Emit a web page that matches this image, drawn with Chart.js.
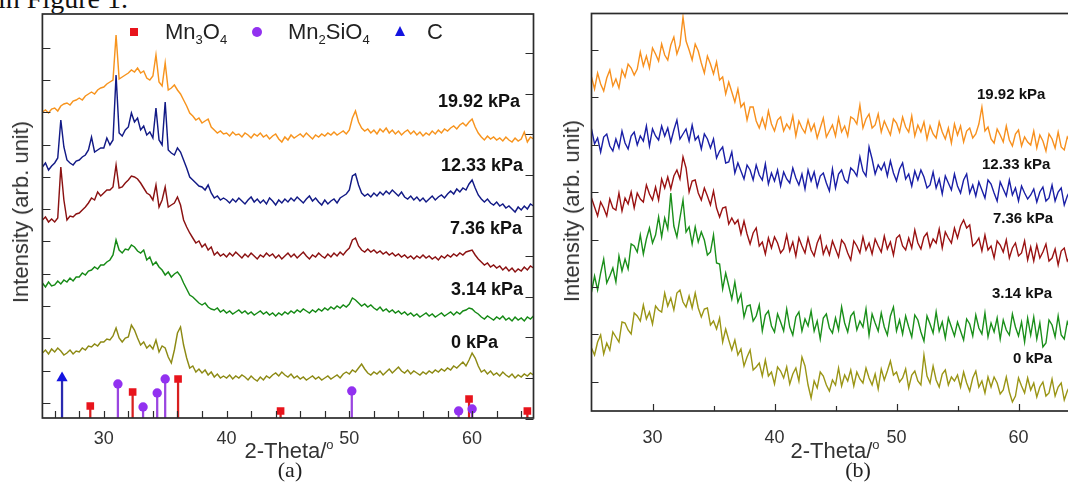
<!DOCTYPE html>
<html>
<head>
<meta charset="utf-8">
<title>XRD patterns</title>
<script src="https://cdn.jsdelivr.net/npm/chart.js@4.4.1/dist/chart.umd.min.js"></script>
<style>
  html, body { margin: 0; padding: 0; background: #fff; }
  body { position: relative; width: 1068px; height: 486px; overflow: hidden; font-family: 'Liberation Sans', Arial, sans-serif; }
  canvas { position: absolute; top: 0; }
  #chartA { left: 0; }
  #chartB { left: 548px; }
  .kpa { position: absolute; white-space: nowrap; line-height: 1; transform: translateY(-50%); font-weight: bold; color: #111; }
  .ytitle { position: absolute; font-size: 22px; color: #333; white-space: nowrap; line-height: 1; transform: translate(-50%, -50%) rotate(-90deg); }
  .xtitle { position: absolute; font-size: 22px; color: #333; white-space: nowrap; line-height: 1; transform: translate(-50%, -50%); }
  .xtitle sup { font-size: 13px; position: relative; top: -2px; vertical-align: top; }
  .panel { position: absolute; font-family: 'Liberation Serif', 'DejaVu Serif', serif; font-size: 22px; color: #222; line-height: 1; transform: translate(-50%, -50%); }
  .pagetext { position: absolute; left: -2px; top: -15px; font-family: 'Liberation Serif', serif; font-size: 28px; line-height: 28px; color: #111; white-space: nowrap; }
  .leg { position: absolute; font-size: 22px; color: #222; line-height: 1; transform: translateY(-50%); white-space: nowrap; }
  .leg sub { font-size: 13px; vertical-align: baseline; position: relative; top: 5px; }
  .mk { position: absolute; transform: translate(-50%, -50%); }
</style>
</head>
<body>
<div class="pagetext">in Figure 1.</div>
<canvas id="chartA" width="540" height="486"></canvas>
<canvas id="chartB" width="540" height="486"></canvas>

<div class="mk" style="left:134px; top:32px; width:8px; height:8px; background:#e8141c;"></div>
<div class="leg" style="left:165px; top:32px;">Mn<sub>3</sub>O<sub>4</sub></div>
<div class="mk" style="left:257px; top:32px; width:10px; height:10px; border-radius:50%; background:#9231f0;"></div>
<div class="leg" style="left:288px; top:32px;">Mn<sub>2</sub>SiO<sub>4</sub></div>
<div class="mk" style="left:400px; top:31px; width:0; height:0; border-left:5.5px solid transparent; border-right:5.5px solid transparent; border-bottom:10px solid #1414e0;"></div>
<div class="leg" style="left:427px; top:32px;">C</div>

<div class="ytitle" style="left:21px; top:212px;">Intensity (arb. unit)</div>
<div class="xtitle" style="left:289px; top:451px;">2-Theta/<sup>o</sup></div>
<div class="panel" style="left:290px; top:470px;">(a)</div>

<div class="ytitle" style="left:572px; top:211px;">Intensity (arb. unit)</div>
<div class="xtitle" style="left:835px; top:451px;">2-Theta/<sup>o</sup></div>
<div class="panel" style="left:858px; top:470px;">(b)</div>

<script>
// 2-theta scan grid (degrees)
const thetaStart = 25;
const thetaStep = 0.25;
const thetaLabels = [30, 40, 50, 60];
const pressures = ['19.92 kPa', '12.33 kPa', '7.36 kPa', '3.14 kPa', '0 kPa'];

// Panel (a) intensities, arb. units
const a1992 = [320,322,319,323,324,321,326,328,329,327,331,332,334,332,336,338,340,338,342,344,345,348,350,352,
  397,353,355,357,359,362,360,364,359,361,354,352,356,377,350,346,369,342,344,347,342,338,332,326,
  319,316,312,314,309,311,313,305,302,299,301,298,299,296,300,297,298,295,299,297,294,298,296,299,
  295,297,293,296,298,293,290,295,292,297,294,296,298,295,299,296,293,297,295,298,296,299,297,300,
  297,299,301,298,302,314,321,310,304,301,303,299,302,298,303,300,304,299,302,298,301,297,300,302,
  298,301,297,300,296,299,297,301,298,302,299,303,301,304,306,303,307,309,306,310,313,305,299,295,
  292,296,293,295,292,294,291,295,292,290,294,291,293,300,290,295,293];
const a1233 = [265,269,262,266,269,274,312,285,272,269,267,271,272,275,277,282,295,280,282,284,284,294,287,292,
  357,299,296,302,305,319,310,314,302,306,297,300,294,324,292,287,330,282,279,277,284,280,272,264,
  255,252,249,246,245,242,247,239,234,236,232,234,232,229,233,230,234,231,228,232,235,230,233,229,
  232,228,234,231,227,232,229,233,230,234,231,235,232,229,233,236,231,234,230,227,232,228,231,233,
  229,234,236,238,242,256,258,247,239,236,238,235,239,236,240,237,241,238,242,239,236,240,235,233,
  236,232,235,231,234,230,233,236,232,235,237,234,238,241,238,243,240,244,242,248,252,244,237,233,
  230,233,229,227,230,226,228,224,226,223,220,225,222,226,223,228,226];
const a736 = [212,215,210,213,210,214,265,232,212,216,215,218,219,222,225,229,234,232,240,236,239,242,242,245,
  267,244,245,249,252,256,255,253,249,244,239,237,232,247,225,232,245,225,227,229,235,227,212,205,
  199,194,189,191,185,188,182,185,177,180,176,178,175,179,176,180,177,174,178,175,179,176,173,177,
  175,179,176,178,174,177,173,176,179,175,178,174,177,180,176,173,177,175,179,176,174,178,175,179,
  176,180,177,181,184,192,194,186,182,180,183,180,182,179,181,178,180,177,179,176,178,175,177,174,
  176,173,176,174,177,174,176,173,175,172,176,174,177,175,178,176,179,177,180,181,182,177,173,170,
  167,169,165,167,164,166,162,165,161,164,160,163,161,165,162,166,164];
const a314 = [149,145,150,146,147,151,148,152,150,154,151,155,155,159,157,161,162,165,163,167,167,170,172,177,
  192,182,179,183,182,187,185,181,179,182,172,175,167,170,165,162,157,160,155,158,160,156,149,143,
  137,135,132,129,127,129,125,123,122,124,120,122,119,121,118,120,122,119,121,118,120,117,119,121,
  118,120,117,119,116,119,117,120,118,121,119,122,120,123,121,119,122,120,123,121,124,122,125,123,
  126,124,127,125,128,134,132,129,126,128,125,127,124,122,125,121,123,120,122,119,121,118,120,117,
  119,116,118,115,117,119,116,118,115,117,119,116,118,120,117,120,118,121,122,124,123,120,118,115,
  113,116,114,112,115,113,116,112,114,111,115,112,114,111,115,113,116];
const a0 = [79,82,78,83,80,84,81,77,79,82,78,81,80,84,82,86,85,88,86,90,90,93,92,96,
  104,94,90,94,95,107,102,94,87,90,84,87,83,92,80,86,84,75,69,82,99,105,87,74,
  64,66,60,63,59,62,57,60,55,58,54,56,54,57,53,56,54,57,55,52,56,53,51,55,
  52,56,54,57,59,56,60,57,55,58,54,56,53,55,52,54,56,53,55,52,54,56,53,55,
  57,54,58,60,58,62,60,64,68,63,59,57,60,58,61,57,60,63,59,62,65,61,59,62,
  58,61,59,57,60,58,61,59,62,60,63,61,64,62,66,64,67,70,66,72,79,74,66,60,
  62,58,61,57,59,56,60,57,55,58,54,57,55,58,56,59,57];

// Reference patterns in panel (a): 2-theta and stick height
const mn3o4Theta = [28.9, 32.35, 36.05, 44.4, 59.75, 64.5];
const mn3o4Height = [26, 40, 53, 21, 33, 21];
const mn2sio4Theta = [31.15, 33.2, 34.35, 35.0, 50.2, 58.9, 60.0];
const mn2sio4Height = [48, 25, 39, 53, 41, 21, 23];
const carbonTheta = [26.6];
const carbonHeight = [54];

// Panel (b) intensities, arb. units
const b1992 = [338,326,342,331,324,337,345,329,336,327,345,338,351,347,340,346,363,349,359,347,367,361,354,371,
  360,355,370,378,361,370,398,374,365,355,371,364,352,342,359,351,341,353,335,338,321,333,323,313,
  326,308,312,295,308,308,294,287,297,287,304,291,284,295,298,284,291,286,299,279,294,287,282,295,
  284,291,277,287,297,278,284,290,279,297,283,289,279,298,296,291,310,287,296,301,287,290,301,283,
  294,287,280,296,292,283,298,288,283,299,279,290,283,293,276,289,281,277,293,283,276,287,272,291,
  280,289,273,284,287,277,281,291,308,284,288,276,272,286,280,273,289,275,269,281,285,269,278,273,
  270,284,267,280,274,264,281,276,267,283,268,265,278,273,262,275,268];
const b1233 = [286,271,277,263,278,281,269,264,276,267,284,272,266,279,283,270,279,274,289,269,286,279,275,289,
  279,287,273,285,295,276,281,286,274,290,275,279,266,281,276,267,276,257,264,268,252,253,263,242,
  252,244,236,250,245,235,250,240,235,251,231,242,234,245,229,243,236,232,247,237,230,241,226,245,
  234,243,228,239,242,232,224,246,227,241,245,235,232,247,244,239,258,244,239,268,256,241,250,245,
  252,239,254,242,234,246,252,236,241,229,244,235,245,238,227,230,243,227,236,221,239,232,225,241,
  229,222,235,241,222,230,219,233,225,217,235,231,222,214,233,226,219,235,220,227,214,229,222,216,
  220,226,213,223,228,214,217,230,214,223,227,210,219,225,211,228,214];
const b736 = [217,208,199,213,207,199,216,207,205,222,204,217,211,223,207,222,216,213,230,221,215,228,215,236,
  227,238,226,239,245,236,258,247,223,234,235,222,215,227,219,210,224,207,198,207,208,191,197,191,
  195,181,194,181,171,182,187,169,173,161,177,167,178,172,162,166,180,164,173,159,177,169,162,177,
  165,159,172,179,161,169,160,174,166,158,175,171,162,155,174,169,162,178,165,172,161,176,169,163,
  179,166,173,160,177,180,169,165,177,167,185,172,166,178,182,168,176,172,186,167,183,177,172,187,
  177,189,195,187,190,169,172,177,164,180,165,169,157,174,170,163,175,157,167,172,159,162,174,155,
  168,154,170,157,163,171,154,157,166,150,164,167,154,159,168,155,162];
const b314 = [123,139,125,142,156,132,139,147,133,159,144,156,146,171,169,163,180,161,176,187,172,180,198,178,
  197,186,222,189,178,197,215,183,188,171,188,173,183,175,160,163,180,152,151,126,142,129,116,133,
  113,121,98,109,110,94,99,110,84,100,104,89,83,101,93,84,106,88,80,98,103,84,96,89,
  104,84,94,76,97,101,87,82,97,85,108,92,83,99,103,85,94,88,106,80,101,92,84,102,
  88,80,99,108,84,95,81,99,88,78,100,95,83,74,99,91,82,103,84,93,77,97,88,79,
  93,84,75,96,91,79,100,87,81,102,78,92,83,97,76,95,85,80,101,88,79,93,73,97,
  80,98,76,92,68,72,95,90,78,99,80,76,93,86,73,90,81];
const b0 = [67,60,73,80,61,72,65,83,78,73,93,92,85,81,102,99,94,110,96,103,91,109,105,103,
  122,109,117,105,122,125,113,108,119,107,122,107,98,106,107,90,94,86,97,73,86,75,65,75,
  60,66,49,58,65,45,48,52,39,55,39,43,31,48,44,37,48,31,41,47,34,58,49,30,
  17,34,27,43,39,30,24,35,30,47,29,40,34,45,29,43,36,32,47,37,30,41,26,46,
  35,44,54,40,43,33,37,46,27,40,44,34,30,60,39,32,49,35,28,41,45,30,38,34,
  40,28,43,32,24,37,44,28,34,22,38,28,38,32,21,25,38,23,13,19,37,29,22,37,
  25,32,18,28,33,19,22,36,19,28,32,15,24,30,17,34,20];

function linePoints(values) {
    return values.map((v, i) => ({ x: thetaStart + i * thetaStep, y: v }));
}

function stickPoints(theta, height) {
    return theta.map((t, i) => ({ x: t, y: height[i] }));
}

function curve(label, values, color, width) {
    return {
        type: 'line', label, data: linePoints(values),
        borderColor: color, borderWidth: width,
        pointRadius: 0, tension: 0, fill: false
    };
}

function stems(label, theta, height, color) {
    return {
        type: 'bar', label, data: stickPoints(theta, height),
        backgroundColor: color, barThickness: 1.6, grouped: false
    };
}

function markers(label, theta, height, color, style, radius) {
    return {
        type: 'line', label, data: stickPoints(theta, height), showLine: false,
        pointStyle: style, pointRadius: radius,
        pointBackgroundColor: color, pointBorderWidth: 0, borderColor: color
    };
}

// Frame and inward tick marks
const frameTicks = {
    id: 'frameTicks',
    afterDraw(chart, args, opts) {
        const { ctx, chartArea: a, scales: { x, y } } = chart;
        ctx.save();
        ctx.strokeStyle = '#2b2b2b';
        ctx.lineWidth = 1.2;
        ctx.beginPath();
        opts.bottom.forEach(t => {
            const px = Math.round(x.getPixelForValue(t.v)) + 0.5;
            ctx.moveTo(px, a.bottom);
            ctx.lineTo(px, a.bottom - t.len);
        });
        opts.left.forEach(v => {
            const py = Math.round(y.getPixelForValue(v)) + 0.5;
            ctx.moveTo(a.left, py);
            ctx.lineTo(a.left + opts.yLen, py);
        });
        opts.right.forEach(v => {
            const py = Math.round(y.getPixelForValue(v)) + 0.5;
            ctx.moveTo(a.right, py);
            ctx.lineTo(a.right - opts.yLen, py);
        });
        ctx.stroke();
        ctx.lineWidth = 1.7;
        ctx.strokeRect(a.left, a.top, a.right - a.left, a.bottom - a.top);
        ctx.restore();
    }
};

function makeChart(id, datasets, box) {
    return new Chart(document.getElementById(id), {
        type: 'line',
        data: { datasets },
        options: {
            responsive: false,
            animation: false,
            devicePixelRatio: 1,
            layout: { padding: { top: box.top, right: box.right, left: 0, bottom: 0 } },
            plugins: {
                legend: { display: false },
                tooltip: { enabled: false },
                frameTicks: box.ticks
            },
            scales: {
                x: {
                    type: 'linear', min: 25, max: 65, offset: false,
                    afterBuildTicks: s => { s.ticks = thetaLabels.map(v => ({ value: v })); },
                    ticks: {
                        font: { family: "'Liberation Sans', Arial, sans-serif", size: 18 },
                        color: '#333', padding: box.labelPad, maxRotation: 0, autoSkip: false
                    },
                    grid: { display: false, drawTicks: false },
                    border: { display: false },
                    afterFit: s => { s.height = box.xHeight; }
                },
                y: {
                    min: box.yMin, max: box.yMax,
                    ticks: { display: false },
                    grid: { display: false, drawTicks: false },
                    border: { display: false },
                    afterFit: s => { s.width = box.yWidth; }
                }
            }
        },
        plugins: [frameTicks]
    });
}

// Tick positions
const ticksA = { bottom: [], left: [], right: [], yLen: 8 };
for (let t = 26; t <= 64; t += 2) ticksA.bottom.push({ v: t, len: 7 });
for (let k = 0; k <= 11; k++) ticksA.left.push(29 + 32.3 * k);
for (let k = -1; k <= 8; k++) ticksA.right.push(54 + 40.6 * k);

const ticksB = { bottom: [], left: [], right: [], yLen: 7 };
for (let t = 30; t <= 65; t += 5) ticksB.bottom.push({ v: t, len: t % 10 === 0 ? 7 : 5 });
for (let k = 0; k <= 7; k++) ticksB.left.push(33.2 + 47.4 * k);

const colorsA = ['#f7941e', '#121a86', '#8b1212', '#168a16', '#8d8a14'];
const colorsB = ['#f7901e', '#1a1fa6', '#9a1212', '#1a8f1a', '#9a9515'];

makeChart('chartA', [
    markers('C', carbonTheta, carbonHeight, '#1414e0', 'triangle', 6.5),
    markers('Mn3O4', mn3o4Theta, mn3o4Height, '#e8141c', 'rect', 5.4),
    markers('Mn2SiO4', mn2sio4Theta, mn2sio4Height, '#9231f0', 'circle', 4.7),
    stems('C', carbonTheta, carbonHeight, '#2a2ab0'),
    stems('Mn3O4', mn3o4Theta, mn3o4Height, '#d82020'),
    stems('Mn2SiO4', mn2sio4Theta, mn2sio4Height, '#9a45e0'),
    curve(pressures[0], a1992, colorsA[0], 1.45),
    curve(pressures[1], a1233, colorsA[1], 1.45),
    curve(pressures[2], a736, colorsA[2], 1.45),
    curve(pressures[3], a314, colorsA[3], 1.45),
    curve(pressures[4], a0, colorsA[4], 1.45)
], { top: 14, right: 5, yWidth: 42.4, xHeight: 68, yMin: 14, yMax: 418, labelPad: 10, ticks: ticksA });

makeChart('chartB', [
    curve(pressures[0], b1992, colorsB[0], 1.4),
    curve(pressures[1], b1233, colorsB[1], 1.4),
    curve(pressures[2], b736, colorsB[2], 1.4),
    curve(pressures[3], b314, colorsB[3], 1.4),
    curve(pressures[4], b0, colorsB[4], 1.4)
], { top: 13.5, right: 8.5, yWidth: 43.5, xHeight: 75, yMin: 4, yMax: 401.5, labelPad: 16, ticks: ticksB });

// Pressure labels next to each pattern
const labelSpotsA = [[438, 101], [441, 165], [450, 228], [451, 289], [451, 342]];
const labelSpotsB = [[977, 93], [982, 163], [993, 217], [992, 292], [1013, 357]];
function addLabels(spots, size) {
    spots.forEach((p, i) => {
        const div = document.createElement('div');
        div.className = 'kpa';
        div.style.left = p[0] + 'px';
        div.style.top = p[1] + 'px';
        div.style.fontSize = size + 'px';
        div.textContent = pressures[i];
        document.body.appendChild(div);
    });
}
addLabels(labelSpotsA, 18);
addLabels(labelSpotsB, 15);
</script>
</body>
</html>
